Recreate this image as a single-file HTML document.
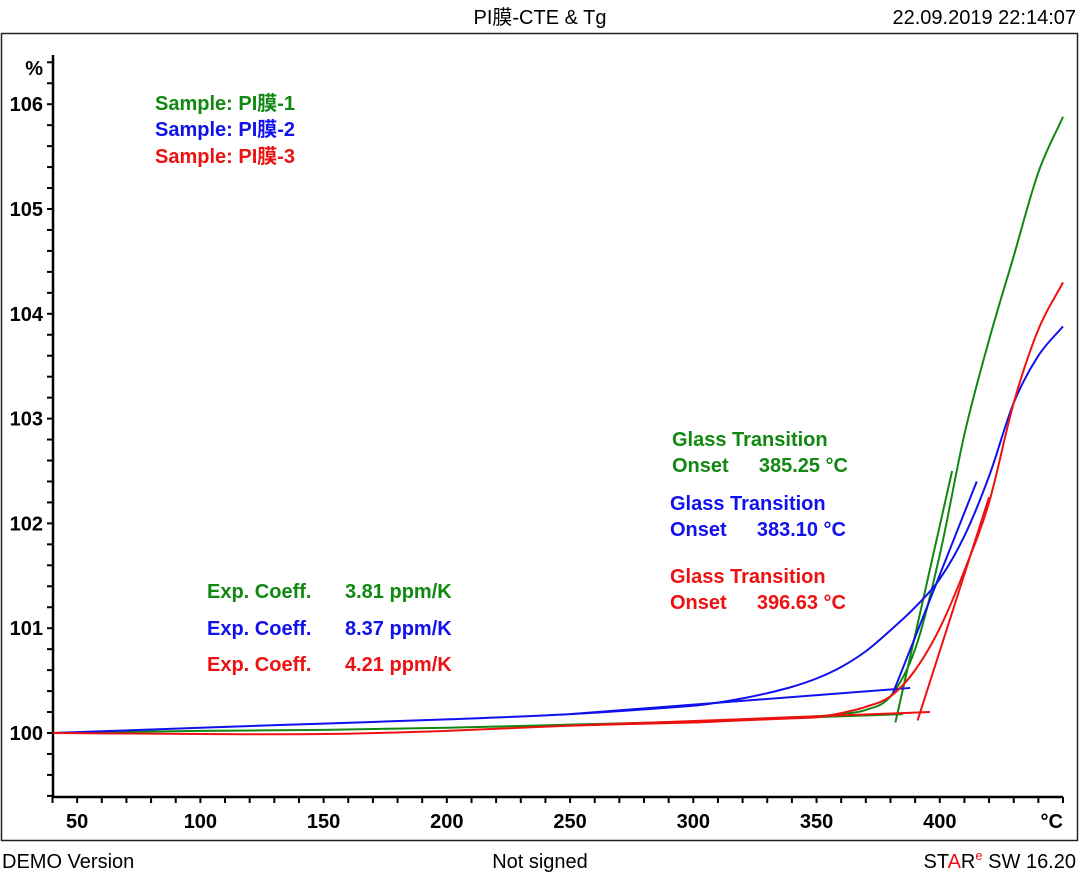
<!DOCTYPE html>
<html><head><meta charset="utf-8"><style>
body{margin:0;background:#fff;width:1080px;height:875px;overflow:hidden;font-family:"Liberation Sans","Noto Sans CJK SC",sans-serif}
svg text{font-family:"Liberation Sans","Noto Sans CJK SC",sans-serif}
</style></head><body>
<svg id="chart" width="1080" height="875" xmlns="http://www.w3.org/2000/svg">
<text x="540" y="24" font-size="20" text-anchor="middle">PI膜-CTE &amp; Tg</text>
<text x="1076" y="24" font-size="20" text-anchor="end">22.09.2019 22:14:07</text>
<rect x="1.5" y="33.5" width="1076" height="807" fill="none" stroke="#222" stroke-width="1.5"/>
<g id="axes"></g>
<g id="series"></g>
<g font-size="20" font-weight="bold">
<text x="155" y="110" fill="#118811">Sample: PI膜-1</text>
<text x="155" y="136" fill="#1111ee">Sample: PI膜-2</text>
<text x="155" y="163" fill="#ee1111">Sample: PI膜-3</text>
</g>
<g font-size="20" font-weight="bold">
<text x="207" y="598" fill="#118811">Exp. Coeff.</text><text x="345" y="598" fill="#118811">3.81 ppm/K</text>
<text x="207" y="635" fill="#1111ee">Exp. Coeff.</text><text x="345" y="635" fill="#1111ee">8.37 ppm/K</text>
<text x="207" y="671" fill="#ee1111">Exp. Coeff.</text><text x="345" y="671" fill="#ee1111">4.21 ppm/K</text>
</g>
<g font-size="20" font-weight="bold">
<text x="672" y="446" fill="#118811">Glass Transition</text><text x="672" y="472" fill="#118811">Onset</text><text x="848" y="472" text-anchor="end" fill="#118811">385.25 °C</text>
<text x="670" y="510" fill="#1111ee">Glass Transition</text><text x="670" y="536" fill="#1111ee">Onset</text><text x="846" y="536" text-anchor="end" fill="#1111ee">383.10 °C</text>
<text x="670" y="583" fill="#ee1111">Glass Transition</text><text x="670" y="609" fill="#ee1111">Onset</text><text x="846" y="609" text-anchor="end" fill="#ee1111">396.63 °C</text>
</g>
<text x="2" y="868" font-size="20">DEMO Version</text>
<text x="540" y="868" font-size="20" text-anchor="middle">Not signed</text>
<text x="1076" y="868" font-size="20" text-anchor="end">ST<tspan fill="#ee1111">A</tspan>R<tspan fill="#ee1111" font-size="13" dy="-8">e</tspan><tspan dy="8"> SW 16.20</tspan></text>
</svg>
<script>
const xTicks=[50,100,150,200,250,300,350,400];
const yTicks=[100,101,102,103,104,105,106];
const temps=[40,100,150,200,250,300,310,320,330,340,350,360,370,380,390,400,410,420,430,440,450];
const green=[100.0,100.02,100.03,100.05,100.08,100.11,100.12,100.13,100.14,100.15,100.16,100.18,100.22,100.35,100.8,101.7,102.85,103.75,104.55,105.35,105.88];
const blue=[100.0,100.05,100.09,100.13,100.18,100.26,100.29,100.33,100.38,100.44,100.52,100.63,100.78,100.98,101.2,101.47,101.88,102.45,103.15,103.6,103.88];
const red=[100.0,99.99,99.99,100.02,100.07,100.1,100.11,100.12,100.13,100.14,100.15,100.19,100.25,100.35,100.6,101.0,101.55,102.2,103.15,103.85,104.3];
const tangentsT=[[250,385],[250,388],[250,396]];
const tangentsV=[[100.07,100.18],[100.18,100.43],[100.07,100.2]];
const steepT=[[382,405],[381,415],[391,420]];
const steepV=[[100.1,102.5],[100.38,102.4],[100.12,102.25]];
const X0=40,X1=450,PX0=52.5,PX1=1063,Y0=100,PY0=733,PPU=104.8;
const sx=t=>PX0+(t-X0)*(PX1-PX0)/(X1-X0);
const sy=v=>PY0-(v-Y0)*PPU;
const NS='http://www.w3.org/2000/svg';
function mk(tag,parent,attrs){const e=document.createElementNS(NS,tag);for(const k in attrs)e.setAttribute(k,attrs[k]);parent.appendChild(e);return e;}
const axes=document.getElementById('axes');
const ya=mk('line',axes,{x1:53,y1:55,x2:53,y2:798,stroke:'#000','stroke-width':2.5});


const xa=mk('line',axes,{x1:52,y1:797,x2:1063,y2:797,stroke:'#000','stroke-width':2.5});


for(let v=99.4;v<=106.41;v+=0.2){const y=sy(v);mk('line',axes,{x1:47,y1:y,x2:53,y2:y,stroke:'#000','stroke-width':2});}
for(const v of yTicks){const t=mk('text',axes,{x:43,y:sy(v)+7,'font-size':20,'font-weight':'bold','text-anchor':'end'});t.textContent=v;

}
const pct=mk('text',axes,{x:43,y:75,'font-size':20,'font-weight':'bold','text-anchor':'end'});pct.textContent='%';


for(let t=40;t<=450;t+=10){const x=sx(t);mk('line',axes,{x1:x,y1:797,x2:x,y2:803,stroke:'#000','stroke-width':2});}
for(const t of xTicks){const e=mk('text',axes,{x:sx(t),y:828,'font-size':20,'font-weight':'bold','text-anchor':'middle'});e.textContent=t;

}
const cu=mk('text',axes,{x:1063,y:828,'font-size':20,'font-weight':'bold','text-anchor':'end'});cu.textContent='°C';


const ser=document.getElementById('series');
const cols=['#118811','#1111ee','#ee1111'];const data=[green,blue,red];
function smooth(xs,ys){const n=xs.length;const m=[];
for(let i=0;i<n;i++){const a=Math.max(i-1,0),b=Math.min(i+1,n-1);m.push((ys[b]-ys[a])/(xs[b]-xs[a]));}
let d='M'+xs[0]+','+ys[0];
for(let i=0;i<n-1;i++){const h=(xs[i+1]-xs[i])/3;d+=` C${xs[i]+h},${ys[i]+m[i]*h} ${xs[i+1]-h},${ys[i+1]-m[i+1]*h} ${xs[i+1]},${ys[i+1]}`;}
return d;}
data.forEach((s,i)=>{
const p=mk('path',ser,{d:smooth(temps.map(sx),s.map(sy)),fill:'none',stroke:cols[i],'stroke-width':2});


const b=mk('line',ser,{x1:sx(tangentsT[i][0]),y1:sy(tangentsV[i][0]),x2:sx(tangentsT[i][1]),y2:sy(tangentsV[i][1]),stroke:cols[i],'stroke-width':2});


const st=mk('line',ser,{x1:sx(steepT[i][0]),y1:sy(steepV[i][0]),x2:sx(steepT[i][1]),y2:sy(steepV[i][1]),stroke:cols[i],'stroke-width':2});


});
</script>
</body></html>
